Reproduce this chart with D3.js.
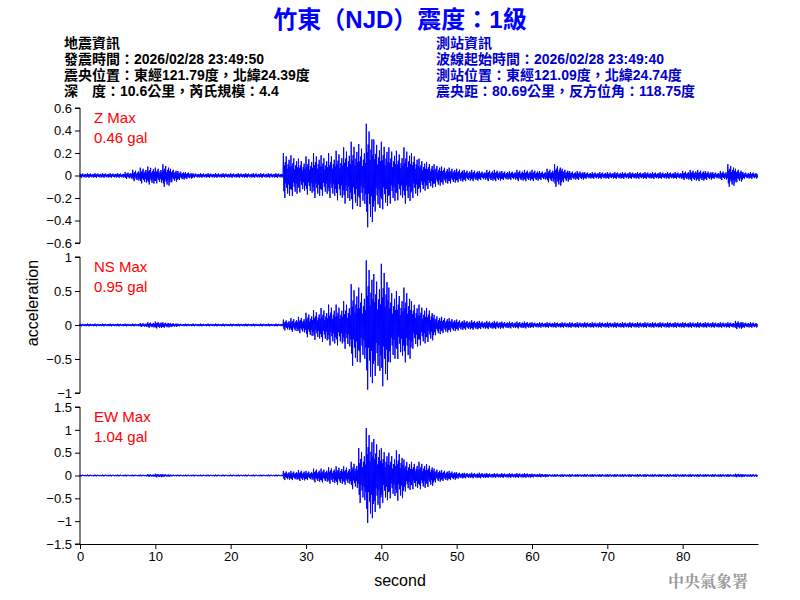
<!DOCTYPE html>
<html><head><meta charset="utf-8">
<script src="https://cdn.jsdelivr.net/npm/d3@7"></script>
<style>body{margin:0;background:#fff}</style>
</head><body>
<svg id="c" width="800" height="600"></svg>
<script>
// peak amplitude envelope (gal), one value per second, read from the record
const zAmp = [.02,.02,.02,.02,.02,.02,.03,.05,.07,.08,.07,.1,.06,.04,.03,.02,.02,.02,.02,.02,.02,.02,.02,.02,.02,.02,.02,.2,.18,.15,.17,.2,.18,.2,.22,.25,.3,.28,.46,.32,.3,.25,.22,.25,.2,.15,.12,.1,.08,.07,.06,.05,.05,.04,.05,.05,.04,.04,.05,.05,.05,.04,.06,.1,.06,.04,.04,.03,.03,.03,.03,.03,.03,.03,.03,.03,.03,.03,.03,.03,.04,.05,.05,.04,.03,.04,.1,.06,.03,.03];
const nsAmp = [.02,.02,.02,.02,.02,.02,.02,.02,.03,.04,.05,.04,.03,.02,.02,.02,.02,.02,.02,.02,.02,.02,.02,.02,.02,.02,.02,.08,.1,.12,.18,.22,.25,.3,.3,.35,.6,.55,.95,.75,.9,.55,.5,.55,.35,.3,.25,.15,.12,.1,.08,.07,.07,.06,.06,.06,.05,.05,.05,.05,.04,.04,.04,.04,.04,.04,.04,.04,.04,.04,.04,.04,.04,.04,.04,.04,.04,.04,.04,.04,.04,.04,.04,.04,.04,.04,.04,.06,.04,.04];
const ewAmp = [.02,.02,.02,.02,.02,.02,.02,.02,.02,.03,.04,.03,.02,.02,.02,.02,.02,.02,.02,.02,.02,.02,.02,.02,.02,.02,.02,.1,.1,.12,.1,.15,.15,.18,.2,.2,.3,.6,1.04,.8,.6,.5,.55,.35,.3,.3,.25,.15,.12,.1,.07,.06,.06,.06,.05,.05,.05,.05,.05,.05,.04,.04,.03,.03,.03,.03,.03,.03,.03,.03,.03,.03,.03,.03,.03,.03,.03,.03,.03,.03,.03,.03,.03,.03,.03,.03,.03,.04,.03,.03];
// relative shape of swings inside each second
const swing = [1,-0.7,0.45,-1,0.6,-0.35,0.85,-0.55,0.3,-0.8,0.5,-0.4,0.7,-0.9,0.4,-0.6];
const xTicks = [0,10,20,30,40,50,60,70,80];
const panels = [
  {name:"Z Max", pga:"0.46 gal", amp:zAmp, dom:[-0.6,0.6], ticks:[-0.6,-0.4,-0.2,0,0.2,0.4,0.6], top:108, bot:243},
  {name:"NS Max", pga:"0.95 gal", amp:nsAmp, dom:[-1,1], ticks:[-1,-0.5,0,0.5,1], top:257, bot:393},
  {name:"EW Max", pga:"1.04 gal", amp:ewAmp, dom:[-1.5,1.5], ticks:[-1.5,-1,-0.5,0,0.5,1,1.5], top:407, bot:544}
];
const leftInfo = ["地震資訊","發震時間：2026/02/28 23:49:50","震央位置：東經121.79度，北緯24.39度","深　度：10.6公里，芮氏規模：4.4"];
const rightInfo = ["測站資訊","波線起始時間：2026/02/28 23:49:40","測站位置：東經121.09度，北緯24.74度","震央距：80.69公里，反方位角：118.75度"];

const svg = d3.select("#c");
const font = "Arial, 'Liberation Sans', 'Noto Sans CJK TC', sans-serif";
const fmt = d3.format(".1~f");
svg.append("text").attr("x",400).attr("y",28).attr("text-anchor","middle")
  .attr("fill","#0000ff").attr("font-size",24).attr("font-weight","bold").attr("font-family",font)
  .text("竹東（NJD）震度：1級");
leftInfo.forEach((t,i)=>svg.append("text").attr("x",64).attr("y",48+i*16).attr("font-size",14)
  .attr("font-weight","bold").attr("font-family",font).attr("fill","#000").text(t));
rightInfo.forEach((t,i)=>svg.append("text").attr("x",436).attr("y",48+i*16).attr("font-size",14)
  .attr("font-weight","bold").attr("font-family",font).attr("fill","#0000cc").text(t));

const x = d3.scaleLinear().domain([0,90]).range([80,758]);
panels.forEach((p,pi)=>{
  const y = d3.scaleLinear().domain(p.dom).range([p.bot,p.top]);
  const pts = [];
  p.amp.forEach((a,i)=>swing.forEach((s,k)=>pts.push([i+k/swing.length, s*a])));
  svg.append("path").datum(pts).attr("fill","none").attr("stroke","#0000ff").attr("stroke-width",1)
    .attr("d", d3.line().x(d=>x(d[0])).y(d=>y(d[1])));
  const ax = svg.append("g").attr("transform","translate(80,0)")
    .call(d3.axisLeft(y).tickValues(p.ticks).tickFormat(fmt).tickSize(5));
  ax.selectAll("text").attr("font-size",13).attr("font-family",font).attr("fill","#000");
  ax.select(".domain").attr("d",`M-5,${p.bot}H0V${p.top}H-5`);
  svg.append("text").attr("x",94).attr("y",p.top+15).attr("fill","#ff0000").attr("font-size",15)
    .attr("font-family",font).text(p.name);
  svg.append("text").attr("x",94).attr("y",p.top+35).attr("fill","#ff0000").attr("font-size",15)
    .attr("font-family",font).text(p.pga);
  if(pi===2){
    const bx = svg.append("g").attr("transform",`translate(0,${p.bot})`)
      .call(d3.axisBottom(x).tickValues(xTicks).tickSize(5).tickSizeOuter(0));
    bx.selectAll("text").attr("font-size",13).attr("font-family",font).attr("fill","#000");
  }
});
svg.append("text").attr("transform","translate(38,303) rotate(-90)").attr("text-anchor","middle")
  .attr("font-size",16).attr("font-family",font).text("acceleration");
svg.append("text").attr("x",400).attr("y",586).attr("text-anchor","middle")
  .attr("font-size",16).attr("font-family",font).text("second");
svg.append("text").attr("x",748).attr("y",587).attr("text-anchor","end").attr("fill","#999")
  .attr("font-size",16).attr("font-weight","bold").attr("font-family","'Noto Serif CJK TC','Noto Sans CJK TC',serif").text("中央氣象署");
</script>
</body></html>
